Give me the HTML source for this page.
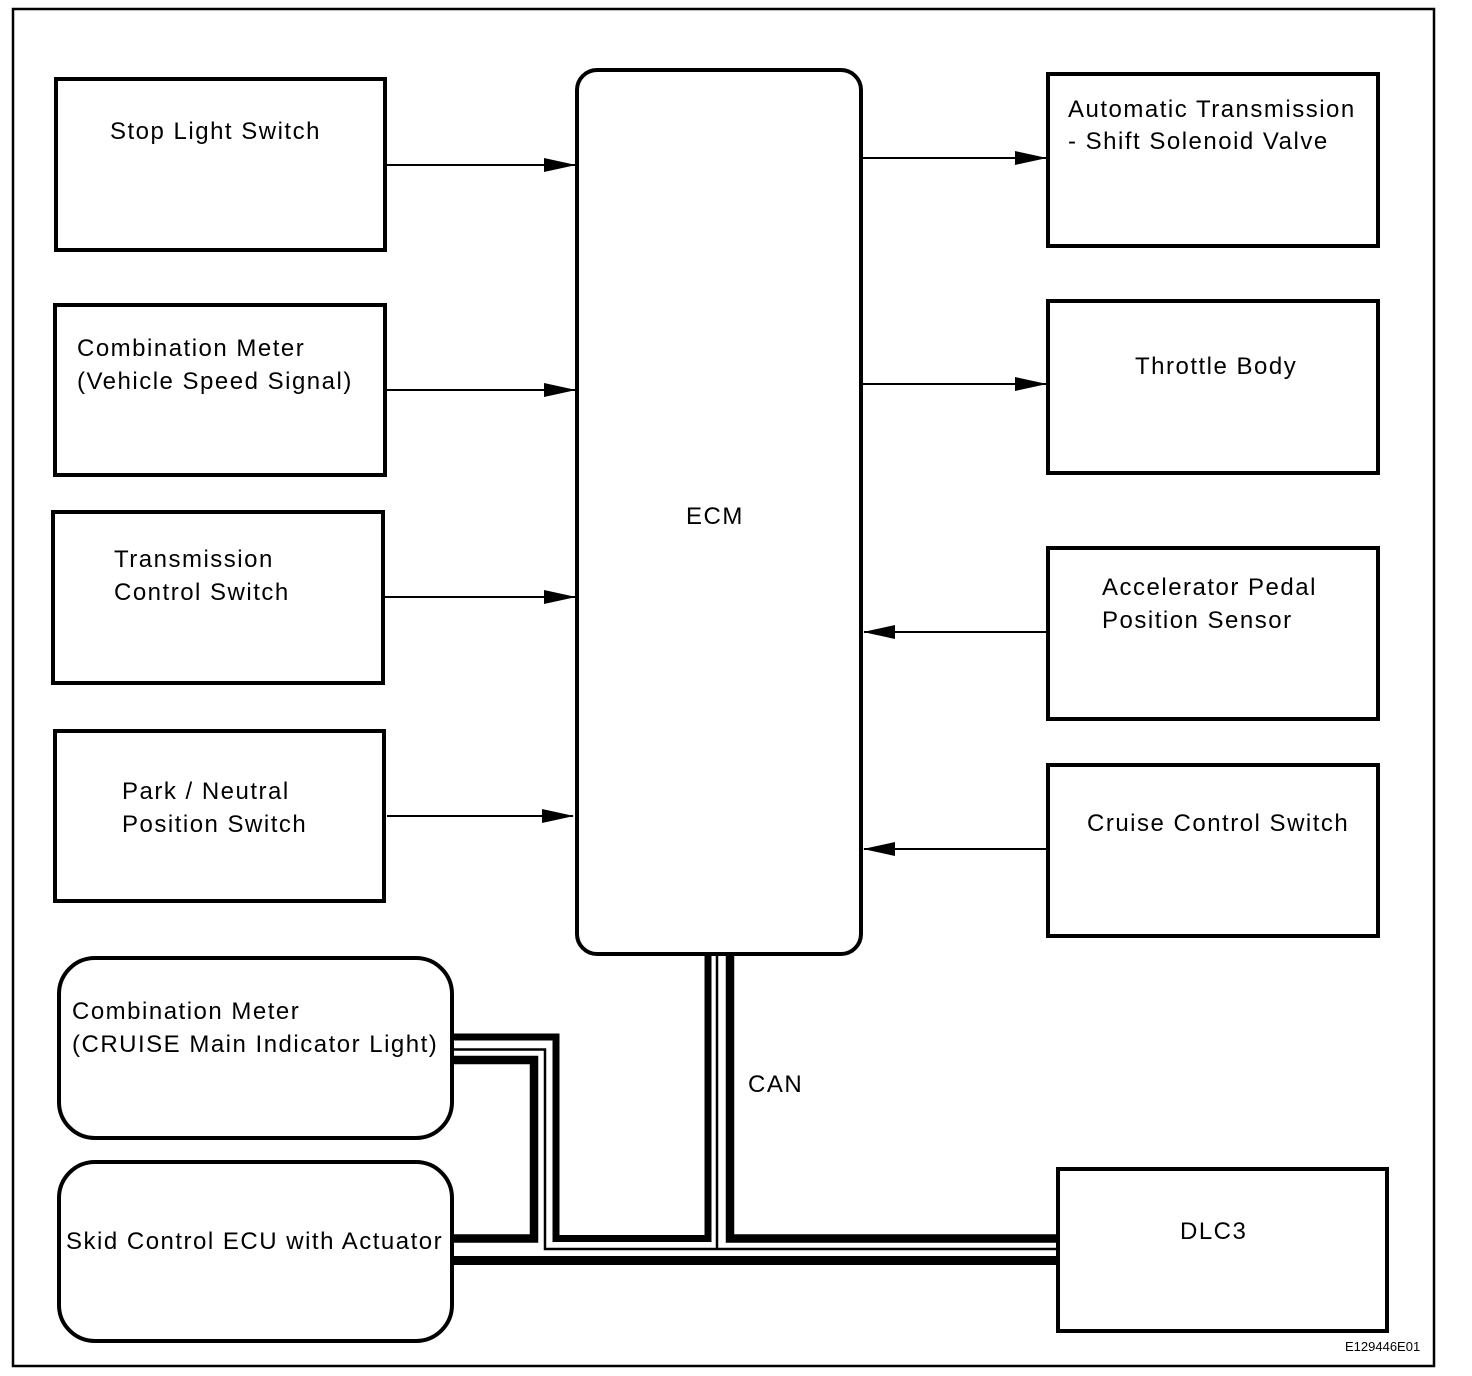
<!DOCTYPE html>
<html><head><meta charset="utf-8"><style>
html,body{margin:0;padding:0;background:#fff}
svg{display:block}
text{font-family:"Liberation Sans",Arial,sans-serif;font-size:24px;fill:#000;letter-spacing:1.5px}
</style></head><body>
<svg width="1472" height="1376" viewBox="0 0 1472 1376" xmlns="http://www.w3.org/2000/svg">
<defs><marker id="a" markerWidth="32" markerHeight="14" refX="31" refY="7" orient="auto" markerUnits="userSpaceOnUse"><path d="M0,0 L32,7 L0,14 Z" fill="#000"/></marker></defs>
<rect x="13" y="9" width="1421" height="1357" fill="none" stroke="#000" stroke-width="2.5"/>
<g fill="none" stroke="#000" stroke-width="4">
<rect x="56" y="79" width="329" height="171"/>
<rect x="55" y="305" width="330" height="170"/>
<rect x="53" y="512" width="330" height="171"/>
<rect x="55" y="731" width="329" height="170"/>
<rect x="577" y="70" width="284" height="884" rx="20"/>
<rect x="1048" y="74" width="330" height="172"/>
<rect x="1048" y="301" width="330" height="172"/>
<rect x="1048" y="548" width="330" height="171"/>
<rect x="1048" y="765" width="330" height="171"/>
<rect x="59" y="958" width="393" height="180" rx="36"/>
<rect x="59" y="1162" width="393" height="179" rx="36"/>
<rect x="1058" y="1169" width="329" height="162"/>
</g>
<g stroke="#000" stroke-width="2" marker-end="url(#a)">
<line x1="387" y1="165" x2="575" y2="165"/>
<line x1="387" y1="390" x2="575" y2="390"/>
<line x1="385" y1="597" x2="575" y2="597"/>
<line x1="387" y1="816" x2="573" y2="816"/>
<line x1="863" y1="158" x2="1046" y2="158"/>
<line x1="863" y1="384" x2="1046" y2="384"/>
<line x1="1050" y1="632" x2="864" y2="632"/>
<line x1="1050" y1="849" x2="864" y2="849"/>
</g>
<g fill="none" stroke="#000" stroke-linejoin="miter">
<polyline stroke-width="7" points="452,1037 556,1037 556,1238.5 708,1238.5 708,956"/>
<polyline stroke-width="8.5" points="452,1060 534,1060 534,1238.5 452,1238.5"/>
<polyline stroke-width="8.5" points="730,956 730,1238.5 1058,1238.5"/>
<polyline stroke-width="2.5" points="452,1049.5 545,1049.5 545,1249 1058,1249"/>
<line stroke-width="2.5" x1="717" y1="956" x2="717" y2="1249"/>
<line stroke-width="9" x1="452" y1="1260.5" x2="1058" y2="1260.5"/>
</g>
<text x="110" y="139">Stop Light Switch</text>
<text x="77" y="356">Combination Meter</text>
<text x="77" y="389">(Vehicle Speed Signal)</text>
<text x="114" y="567">Transmission</text>
<text x="114" y="600">Control Switch</text>
<text x="122" y="799">Park / Neutral</text>
<text x="122" y="832">Position Switch</text>
<text x="686" y="524">ECM</text>
<text x="1068" y="117">Automatic Transmission</text>
<text x="1068" y="149">- Shift Solenoid Valve</text>
<text x="1135" y="374">Throttle Body</text>
<text x="1102" y="595">Accelerator Pedal</text>
<text x="1102" y="628">Position Sensor</text>
<text x="1087" y="831">Cruise Control Switch</text>
<text x="72" y="1019">Combination Meter</text>
<text x="72" y="1052">(CRUISE Main Indicator Light)</text>
<text x="66" y="1249">Skid Control ECU with Actuator</text>
<text x="748" y="1092">CAN</text>
<text x="1180" y="1239">DLC3</text>
<text x="1345" y="1351" style="font-size:13px;letter-spacing:0">E129446E01</text>
</svg>
</body></html>
